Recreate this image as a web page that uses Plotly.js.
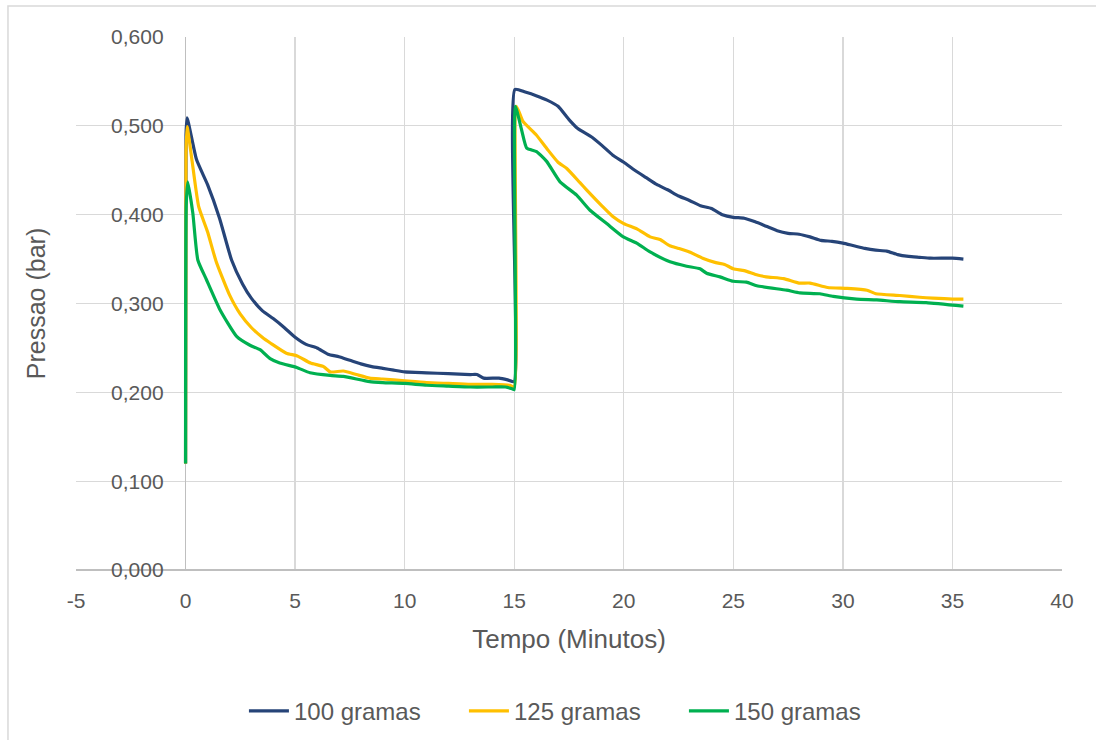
<!DOCTYPE html>
<html>
<head>
<meta charset="utf-8">
<script src="https://cdn.plot.ly/plotly-3.0.1.min.js"></script>
<style>html,body{margin:0;padding:0;background:#fff;}#chart{width:1096px;height:740px;}</style>
</head>
<body>
<div id="chart"></div>
<script>
// ---- data (time in minutes, pressure in bar) ----
const seriesNames = ["100 gramas", "125 gramas", "150 gramas"];

const xTickVals = [-5, 0, 5, 10, 15, 20, 25, 30, 35, 40];
const xTickText = ["-5", "0", "5", "10", "15", "20", "25", "30", "35", "40"];
const yTickVals = [0, 0.1, 0.2, 0.3, 0.4, 0.5, 0.6];
const yTickText = ["0,000", "0,100", "0,200", "0,300", "0,400", "0,500", "0,600"];

const t100 = [0, 0.02, 0.07, 0.5, 1.0, 1.55, 2.1, 2.6, 3.0, 3.5, 4.0,
  4.5, 5.0, 5.5, 6.0, 6.5, 7.0, 7.5, 8.0, 8.5, 9.0,
  9.5, 10, 11, 12, 13, 13.3, 13.6, 14.3, 14.7, 15.0,
  15.03, 15.5, 16.0, 16.5, 17.0, 17.5, 17.9, 18.5, 19.0, 19.5,
  20.0, 20.5, 21.0, 21.5, 22.0, 22.5, 23.0, 23.5, 24.0, 24.5,
  25.0, 25.5, 26.0, 26.5, 27.0, 27.5, 28.0, 28.5, 29.0, 29.5,
  30.0, 30.5, 31.0, 31.5, 32.0, 32.5, 33.0, 33.5, 34.0, 35.0, 35.5];
const p100 = [0.120, 0.490, 0.509, 0.462, 0.434, 0.396, 0.349, 0.322, 0.306, 0.292, 0.283,
  0.273, 0.262, 0.254, 0.250, 0.243, 0.240, 0.236, 0.232, 0.229, 0.227,
  0.225, 0.223, 0.222, 0.221, 0.220, 0.220, 0.216, 0.216, 0.214, 0.212,
  0.541, 0.538, 0.534, 0.529, 0.522, 0.507, 0.497, 0.488, 0.478, 0.467,
  0.459, 0.450, 0.442, 0.434, 0.428, 0.421, 0.416, 0.410, 0.407, 0.400,
  0.397, 0.396, 0.392, 0.387, 0.382, 0.379, 0.378, 0.375, 0.371, 0.370,
  0.368, 0.365, 0.362, 0.360, 0.359, 0.355, 0.353, 0.352, 0.351, 0.351, 0.350];

const t125 = [0, 0.02, 0.07, 0.3, 0.6, 1.0, 1.4, 2.0, 2.5, 3.0, 3.5,
  3.9, 4.6, 5.1, 5.7, 6.3, 6.6, 7.2, 7.8, 8.4, 9.0,
  10, 11, 12, 13, 14, 14.8, 15.0, 15.1, 15.4, 16.0,
  16.5, 17.0, 17.4, 18.0, 18.3, 19.0, 19.5, 20.0, 20.6, 21.2,
  21.65, 22.1, 22.5, 23.0, 23.6, 24.2, 24.6, 25.0, 25.5, 26.1,
  26.5, 27.3, 28.0, 28.5, 29.3, 30.2, 31.1, 31.5, 32.6, 33.5,
  34.1, 35.0, 35.5];
const p125 = [0.120, 0.470, 0.499, 0.460, 0.409, 0.381, 0.347, 0.310, 0.288, 0.273, 0.262,
  0.255, 0.244, 0.241, 0.233, 0.229, 0.223, 0.224, 0.220, 0.216, 0.215,
  0.213, 0.211, 0.210, 0.209, 0.209, 0.208, 0.206, 0.522, 0.505, 0.490,
  0.474, 0.459, 0.452, 0.436, 0.428, 0.410, 0.398, 0.390, 0.384, 0.375,
  0.372, 0.365, 0.362, 0.358, 0.351, 0.346, 0.344, 0.339, 0.337, 0.332,
  0.330, 0.328, 0.323, 0.323, 0.318, 0.317, 0.315, 0.311, 0.309, 0.307,
  0.306, 0.305, 0.305];

const t150 = [0, 0.03, 0.1, 0.33, 0.56, 0.95, 1.57, 2.33, 2.94, 3.4, 3.86,
  4.3, 5.07, 5.68, 6.6, 7.2, 8.4, 9.0, 10, 11, 12,
  13, 14, 14.6, 14.9, 15.0, 15.05, 15.34, 15.57, 16.02, 16.48,
  17.09, 17.85, 18.46, 19.22, 19.98, 20.59, 21.2, 22.11, 22.87, 23.48,
  23.78, 24.39, 25.0, 25.6, 26.07, 27.43, 28.04, 28.95, 29.56, 30.63,
  31.54, 32.6, 33.8, 35.5];
const p150 = [0.120, 0.410, 0.437, 0.402, 0.349, 0.327, 0.293, 0.263, 0.253, 0.248, 0.238,
  0.233, 0.228, 0.222, 0.219, 0.218, 0.212, 0.211, 0.210, 0.208, 0.207,
  0.206, 0.206, 0.206, 0.204, 0.203, 0.522, 0.495, 0.475, 0.471, 0.460,
  0.437, 0.422, 0.405, 0.390, 0.375, 0.368, 0.358, 0.347, 0.342, 0.339,
  0.334, 0.330, 0.325, 0.324, 0.320, 0.315, 0.312, 0.311, 0.308, 0.305,
  0.304, 0.302, 0.301, 0.297];

const colors = ["#264478", "#FFC000", "#00B050"];
const xs = [t100, t125, t150];
const ys = [p100, p125, p150];

const font = "Liberation Sans, Arial, sans-serif";
const txt = "#595959";

const traces = seriesNames.map((n, i) => ({
  type: "scatter", mode: "lines", name: n,
  x: xs[i], y: ys[i],
  line: {color: colors[i], width: 3.2, shape: "spline", smoothing: 0.5},
  hoverinfo: "x+y+name"
}));

const layout = {
  width: 1096, height: 740,
  margin: {l: 76, r: 34, t: 37, b: 170, autoexpand: false},
  paper_bgcolor: "#ffffff", plot_bgcolor: "#ffffff",
  font: {family: font, color: txt, size: 21},
  showlegend: true,
  xaxis: {
    range: [-5, 40], tickmode: "array", tickvals: xTickVals, ticktext: xTickText,
    showgrid: true, gridcolor: "#d9d9d9", gridwidth: 1.3,
    zeroline: true, zerolinecolor: "#bfbfbf", zerolinewidth: 1.6,
    showline: false, ticks: "", ticklabelstandoff: 16,
    tickfont: {family: font, size: 21, color: txt},
    title: {text: "Tempo (Minutos)", font: {family: font, size: 26, color: txt}, standoff: 18},
    automargin: false,
    fixedrange: true
  },
  yaxis: {
    range: [0, 0.6], tickmode: "array", tickvals: yTickVals, ticktext: yTickText,
    anchor: "free", position: 0.1112,
    showgrid: true, gridcolor: "#d9d9d9", gridwidth: 1.3,
    zeroline: true, zerolinecolor: "#bfbfbf", zerolinewidth: 1.6,
    showline: false, ticks: "", ticklabelstandoff: 22,
    tickfont: {family: font, size: 21, color: txt},
    title: {text: "Pressao (bar)", font: {family: font, size: 25, color: txt}, standoff: 57},
    automargin: false,
    fixedrange: true
  },
  legend: {
    orientation: "h", x: 0.505, xanchor: "center", y: -0.265, yanchor: "middle",
    font: {family: font, size: 24, color: txt},
    entrywidth: 165, entrywidthmode: "pixels", itemwidth: 40,
    bgcolor: "rgba(0,0,0,0)"
  },
  shapes: [{
    type: "rect", xref: "paper", yref: "paper",
    x0: -0.069, x1: 1.04, y0: -0.33, y1: 1.058,
    line: {color: "#d9d9d9", width: 1.5}, fillcolor: "rgba(0,0,0,0)", layer: "below"
  }]
};

Plotly.newPlot("chart", traces, layout, {displayModeBar: false, staticPlot: true});
</script>
</body>
</html>
